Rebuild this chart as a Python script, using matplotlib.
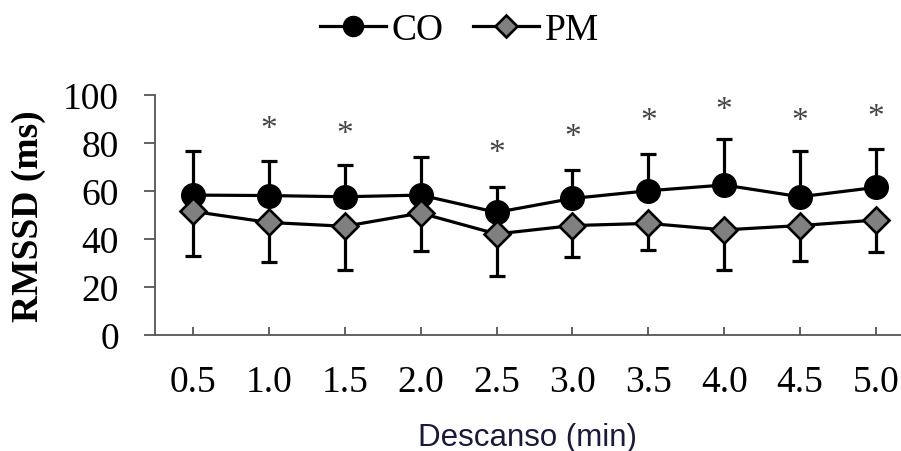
import numpy as np
import matplotlib
matplotlib.use("Agg")
import matplotlib.pyplot as plt

#%% data
tiempos = ['0.5', '1.0', '1.5', '2.0', '2.5', '3.0', '3.5', '4.0', '4.5', '5.0']
co_media = [58.3, 58.1, 57.6, 58.3, 51.1, 56.9, 60.1, 62.5, 57.6, 61.5]
co_sd = [18.5, 14.5, 13.4, 16.0, 10.4, 11.8, 15.3, 19.2, 18.9, 16.0]
pm_media = [51.5, 46.9, 45.3, 50.8, 42.1, 45.6, 46.5, 43.8, 45.6, 47.9]
pm_sd = [18.4, 16.3, 18.1, 15.9, 17.4, 13.2, 10.9, 16.7, 14.6, 13.5]
signif = ['', '*', '*', '', '*', '*', '*', '*', '*', '*']
signif_y = [0, 89.3, 87.2, 0, 79.6, 86.1, 92.8, 97.2, 92.8, 94.5]

#%% plot
plt.rcParams['font.family'] = ['Liberation Serif', 'DejaVu Serif']

fig = plt.figure(figsize=(9.01, 4.52), dpi=100)
ax = fig.add_axes([155 / 901, (452 - 336) / 452, 1 - 155 / 901, 240 / 452])

x = np.arange(len(tiempos))
co_media = np.array(co_media)
pm_media = np.array(pm_media)
zeros = np.zeros(len(x))

ax.errorbar(x, co_media, yerr=[zeros, co_sd], fmt='none', ecolor='black',
            elinewidth=2.3, capsize=6, capthick=2.3, zorder=2)
ax.plot(x, co_media, '-o', color='black', lw=2.3, ms=17,
        mfc='black', mec='black', label='CO', zorder=3)
ax.errorbar(x, pm_media, yerr=[pm_sd, zeros], fmt='none', ecolor='black',
            elinewidth=2.3, capsize=6, capthick=2.3, zorder=4)
ax.plot(x, pm_media, '-D', color='black', lw=2.3, ms=13.5,
        mfc='#808080', mec='black', mew=1.9, label='PM', zorder=5)

for xi, s, yi in zip(x, signif, signif_y):
    if s:
        ax.text(xi, yi - 3.5, s, ha='center', va='center', fontsize=24,
                color='#444444')

ax.set_xlim(-0.5, 9.33)
ax.set_ylim(0, 100)
ax.set_yticks([0, 20, 40, 60, 80, 100])
ax.set_xticks(x)
ax.set_xticklabels(tiempos)

for side in ['top', 'right']:
    ax.spines[side].set_visible(False)
for side in ['left', 'bottom']:
    ax.spines[side].set_color('#555555')
    ax.spines[side].set_linewidth(1.3)

ax.tick_params(axis='y', direction='out', length=8, width=1.3,
               color='#555555', labelsize=27, pad=18)
ax.tick_params(axis='x', direction='in', length=6, width=1.3,
               color='#555555', labelsize=27, pad=21)

ax.set_ylabel('RMSSD (ms)', fontsize=27, fontweight='bold', labelpad=12)
ax.set_xlabel('Descanso (min)', fontsize=22.5, family='Liberation Sans',
              color='#1a1a3a', labelpad=17)

fig.legend(loc='upper center', bbox_to_anchor=(0.51, 1.045), ncol=2,
           frameon=False, fontsize=27, handlelength=1.75, handletextpad=0.15,
           columnspacing=0.8, markerscale=0.85)

fig.savefig('out.png', dpi=100)
